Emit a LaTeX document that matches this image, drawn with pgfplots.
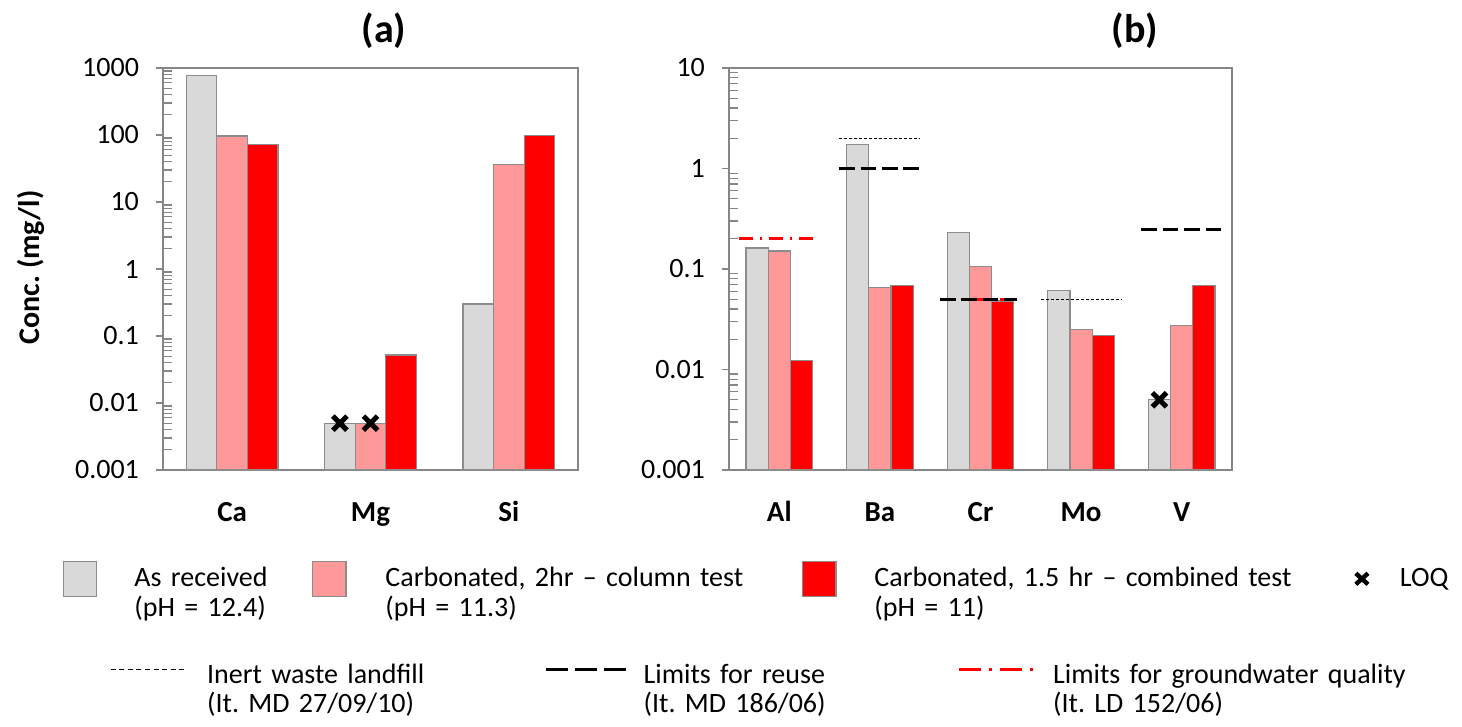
\documentclass[border=0pt]{standalone}
\usepackage{fontspec}
\setmainfont{Carlito}
\usepackage{pgfplots}
\pgfplotsset{compat=1.18}
\frenchspacing

\definecolor{bgray}{HTML}{D9D9D9}
\definecolor{bpink}{HTML}{FF9999}
\definecolor{bred}{HTML}{FF0000}
\definecolor{edge}{HTML}{8C8C8C}
\definecolor{axgray}{HTML}{868686}

\newcommand{\fs}{\fontsize{14}{14.7}\selectfont}

\pgfplotsset{
  every axis/.append style={
    scale only axis, height=201pt, ymin=0.001, log origin=infty,
    clip=false,
    axis line style={draw=axgray, line width=0.6pt},
    tick style={draw=axgray, line width=0.6pt},
    ytick pos=left, xtick pos=bottom, tick align=outside,
    major tick length=3.5pt, minor tick length=4.3pt,
    minor y tick style={xshift=4.3pt},
    xtick style={draw=none},
    yticklabel style={font=\fs, xshift=-5pt},
    xticklabel style={font=\fontsize{14.5}{15}\selectfont\bfseries, anchor=base, yshift=-22.5pt},
    legend cell align=left,
    legend style={draw=none, fill=none, inner sep=0pt, outer sep=0pt,
      column sep=0pt, font=\fs, anchor=west, cells={align=left, inner sep=0pt}},
  },
  every axis title/.style={font=\fontsize{20}{24}\selectfont\bfseries, anchor=center},
}
\tikzset{
  inert/.style={black, line width=0.6pt, dash pattern=on 1.5pt off 1pt},
  reuse/.style={black, line width=1.5pt, dash pattern=on 7.8pt off 2.9pt},
  gw/.style={bred, line width=1.5pt, dash pattern=on 7pt off 3.5pt on 1pt off 3.5pt},
  inertL/.style={black, line width=0.6pt, dash pattern=on 2.5pt off 1.8pt},
  reuseL/.style={black, line width=1.5pt, dash pattern=on 11pt off 3.5pt},
  gwL/.style={bred, line width=1.5pt, dash pattern=on 11pt off 4pt on 1.5pt off 4pt},
}

\begin{document}
\begin{tikzpicture}
\path[use as bounding box] (0pt,0pt) rectangle (731pt,363.5pt);

% ---------------- (a) ----------------
\begin{axis}[ymode=log,
  at={(81.5pt,128.5pt)}, anchor=south west,
  width=207.5pt, ymax=1000,
  xmin=-0.5, xmax=2.5,
  xtick={0,1,2}, xticklabels={Ca,Mg,Si},
  ytick={0.001,0.01,0.1,1,10,100,1000},
  yticklabels={0.001,0.01,0.1,1,10,100,1000},
  minor ytick={0.002,0.003,0.004,0.005,0.006,0.007,0.008,0.009,
               0.02,0.03,0.04,0.05,0.06,0.07,0.08,0.09,
               0.2,0.3,0.4,0.5,0.6,0.7,0.8,0.9,
               2,3,4,5,6,7,8,9,20,30,40,50,60,70,80,90,
               200,300,400,500,600,700,800,900},
  title={(a)},
  title style={at={(axis description cs:0.5325,1.092)}},
  ylabel={Conc. (mg/l)},
  every axis y label/.style={at={(axis description cs:-0.318,0.504)},
     rotate=90, anchor=center, font=\fontsize{15}{16}\selectfont\bfseries},
  legend columns=4,
  legend style={at={(axis description cs:-0.2417,-0.2712)}},
]
\addplot[ybar, bar width=0.221, bar shift=-0.221, draw=edge, line width=0.6pt, fill=bgray,
  legend image code/.code={\path[draw=none,fill=none] (0pt,0pt) -- (33.9pt,0pt); \draw[draw=edge, line width=0.6pt, fill=bgray] (0.3pt,-9pt) rectangle (17pt,8.5pt);}]
  coordinates {(0,767) (1,0.005) (2,0.30)};
\addlegendentry[text width=86.75pt, align=left]{As received\\(pH = 12.4)}
\addplot[ybar, bar width=0.221, bar shift=0, draw=edge, line width=0.6pt, fill=bpink,
  legend image code/.code={\path[draw=none,fill=none] (0pt,0pt) -- (34.75pt,0pt); \draw[draw=edge, line width=0.6pt, fill=bpink] (0.3pt,-9pt) rectangle (17pt,8.5pt);}]
  coordinates {(0,96.6) (1,0.005) (2,36.5)};
\addlegendentry[text width=206.25pt, align=left]{Carbonated, 2hr -- column test\\(pH = 11.3)}
\addplot[ybar, bar width=0.221, bar shift=0.221, draw=edge, line width=0.6pt, fill=bred,
  legend image code/.code={\path[draw=none,fill=none] (0pt,0pt) -- (34.25pt,0pt); \draw[draw=edge, line width=0.6pt, fill=bred] (0.3pt,-9pt) rectangle (17pt,8.5pt);}]
  coordinates {(0,72.6) (1,0.052) (2,98)};
\addlegendentry[text width=237.55pt, align=left]{Carbonated, 1.5 hr -- combined test\\(pH = 11)}
\addplot[only marks, mark=x, mark size=5pt, line width=2.5pt, black,
  legend image code/.code={\path[draw=none,fill=none] (0pt,0pt) -- (21.15pt,0pt); \draw[black, line width=2.2pt] (1.1pt,-2.9pt) -- (7.2pt,2.6pt) (1.1pt,2.6pt) -- (7.2pt,-2.9pt);}]
  coordinates {(0.779,0.005) (1,0.005)};
\addlegendentry[text width=26pt, align=left]{LOQ\\\phantom{(}}
\end{axis}

% ---------------- (b) ----------------
\begin{axis}[ymode=log,
  at={(364.5pt,128.5pt)}, anchor=south west,
  width=251.5pt, ymax=10,
  xmin=-0.5, xmax=4.5,
  xtick={0,1,2,3,4}, xticklabels={Al,Ba,Cr,Mo,V},
  ytick={0.001,0.01,0.1,1,10},
  yticklabels={0.001,0.01,0.1,1,10},
  minor ytick={0.002,0.003,0.004,0.005,0.006,0.007,0.008,0.009,
               0.02,0.03,0.04,0.05,0.06,0.07,0.08,0.09,
               0.2,0.3,0.4,0.5,0.6,0.7,0.8,0.9,
               2,3,4,5,6,7,8,9},
  title={(b)},
  title style={at={(axis description cs:0.807,1.092)}},
  legend columns=3,
  legend style={at={(axis description cs:-1.2306,-0.5099)}},
]
\addplot[ybar, bar width=0.221, bar shift=-0.221, draw=edge, line width=0.6pt, fill=bgray, forget plot]
  coordinates {(0,0.162) (1,1.72) (2,0.232) (3,0.0614) (4,0.005)};
\addplot[ybar, bar width=0.221, bar shift=0, draw=edge, line width=0.6pt, fill=bpink, forget plot]
  coordinates {(0,0.151) (1,0.066) (2,0.105) (3,0.0251) (4,0.0275)};
\addplot[ybar, bar width=0.221, bar shift=0.221, draw=edge, line width=0.6pt, fill=bred, forget plot]
  coordinates {(0,0.0122) (1,0.068) (2,0.048) (3,0.0217) (4,0.068)};

\addplot[inert, legend image code/.code={\path[draw=none,fill=none] (0pt,0pt) -- (46.25pt,0pt); \draw[inertL] (0pt,2.6pt) -- (38.5pt,2.6pt);}]
  coordinates {(0.596,2) (1.399,2)};
\addlegendentry[text width=166.75pt, align=left]{Inert waste landfill\\(It. MD 27/09/10)}
\addplot[reuse, legend image code/.code={\path[draw=none,fill=none] (0pt,0pt) -- (46.75pt,0pt); \draw[reuseL] (0pt,2.6pt) -- (40pt,2.6pt);}]
  coordinates {(0.596,1) (1.399,1)};
\addlegendentry[text width=154.75pt, align=left]{Limits for reuse\\(It. MD 186/06)}
\addplot[gw, legend image code/.code={\path[draw=none,fill=none] (0pt,0pt) -- (45.25pt,0pt); \draw[gwL] (0pt,2.6pt) -- (37.5pt,2.6pt);}]
  coordinates {(-0.4,0.2) (0.345,0.2)};
\addlegendentry[text width=195pt, align=left]{Limits for groundwater quality\\(It. LD 152/06)}

\addplot[inert, forget plot] coordinates {(2.6,0.05) (3.4,0.05)};
\addplot[gw, forget plot] coordinates {(1.597,0.05) (2.36,0.05)};
\addplot[reuse, forget plot] coordinates {(1.597,0.05) (2.36,0.05)};
\addplot[reuse, forget plot] coordinates {(3.6,0.25) (4.4,0.25)};
\addplot[only marks, mark=x, mark size=5pt, line width=2.5pt, black, forget plot] coordinates {(3.779,0.005)};
\end{axis}
\end{tikzpicture}
\end{document}
